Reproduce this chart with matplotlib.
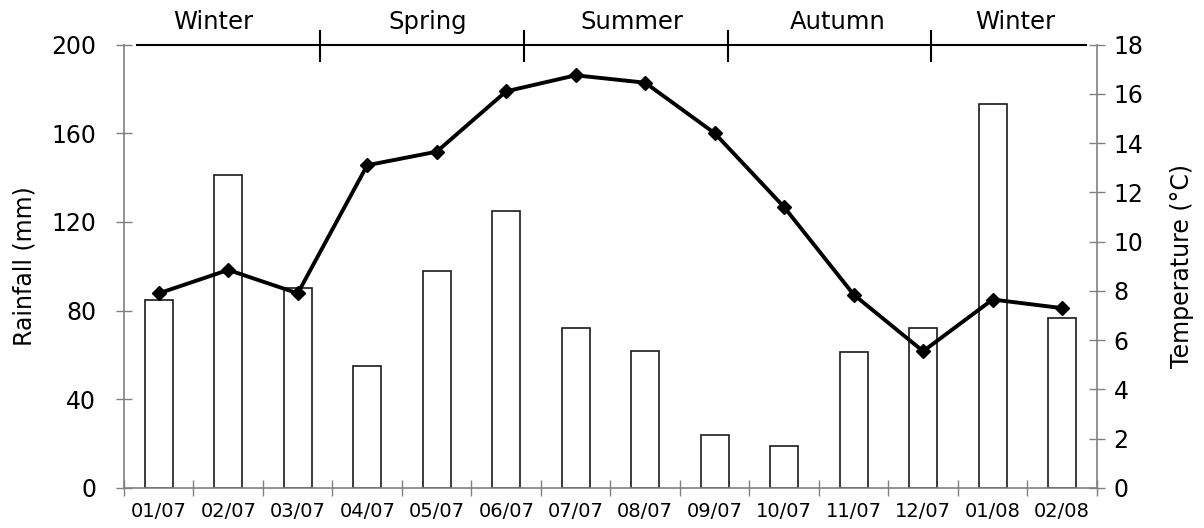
import matplotlib.pyplot as plt
import numpy as np

months = ['01/07', '02/07', '03/07', '04/07', '05/07', '06/07', '07/07',
          '08/07', '09/07', '10/07', '11/07', '12/07', '01/08', '02/08']
rainfall = [85, 141, 90, 55, 98, 125, 72, 62, 24, 19, 61.5, 72, 173, 76.5]
temperature = [7.9, 8.85, 7.9, 13.1, 13.65, 16.1, 16.75, 16.45, 14.4, 11.4,
               7.85, 5.55, 7.65, 7.3]
seasons = ['Winter', 'Spring', 'Summer', 'Autumn', 'Winter']

# season band layout (axes fraction)
season_label_x = [0.0915, 0.3124, 0.5221, 0.7338, 0.9157]
season_ticks_x = [0.2014, 0.4111, 0.6208, 0.8294]
season_line = (0.0134, 0.9887)

plt.rcParams['font.family'] = 'DejaVu Sans'
grey = '#808080'

fig = plt.figure(figsize=(12.04, 5.28), dpi=100)
ax = fig.add_axes([0.103, 0.0758, 0.808, 0.8399])
x = np.arange(len(months))

ax.bar(x, rainfall, width=0.4, facecolor='white', edgecolor='#1a1a1a',
       linewidth=1.2, zorder=2)
ax.set_xlim(-0.5, len(months) - 0.5)
ax.set_ylim(0, 200)
ax.set_yticks(range(0, 201, 40))
ax.set_ylabel('Rainfall (mm)', fontsize=17)
ax.yaxis.set_label_coords(-0.09, 0.5)

ax.set_xticks(x)
ax.set_xticklabels(months, fontsize=14)
ax.set_xticks(np.arange(-0.5, len(months)), minor=True)
ax.tick_params(axis='x', which='major', length=0, pad=10)
ax.tick_params(axis='x', which='minor', direction='inout', length=12,
               color=grey, width=1)
ax.tick_params(axis='y', direction='inout', length=12, color=grey,
               labelsize=17, width=1, pad=14)

for side in ['left', 'bottom']:
    ax.spines[side].set_color(grey)
    ax.spines[side].set_linewidth(1.2)
ax.spines['top'].set_visible(False)
ax.spines['right'].set_visible(False)

ax2 = ax.twinx()
ax2.plot(x, temperature, color='black', linewidth=2.8, marker='D',
         markersize=7, zorder=3)
ax2.set_ylim(0, 18)
ax2.set_yticks(range(0, 19, 2))
ax2.set_ylabel('Temperature (°C)', fontsize=17)
ax2.yaxis.set_label_coords(1.075, 0.5)
ax2.tick_params(axis='y', direction='inout', length=12, color=grey,
                labelsize=17, width=1, pad=6)
ax2.spines['right'].set_color(grey)
ax2.spines['right'].set_linewidth(1.2)
for side in ['left', 'top', 'bottom']:
    ax2.spines[side].set_visible(False)

# season band above the plot
ax.plot(season_line, [1.0, 1.0], color='black', linewidth=1.5,
        transform=ax.transAxes, clip_on=False)
for sx in season_ticks_x:
    ax.plot([sx, sx], [0.963, 1.031], color='black', linewidth=1.5,
            transform=ax.transAxes, clip_on=False)
for name, sx in zip(seasons, season_label_x):
    ax.text(sx, 1.05, name, fontsize=17.5, ha='center', va='center',
            transform=ax.transAxes)

fig.savefig('out.png', dpi=100)
